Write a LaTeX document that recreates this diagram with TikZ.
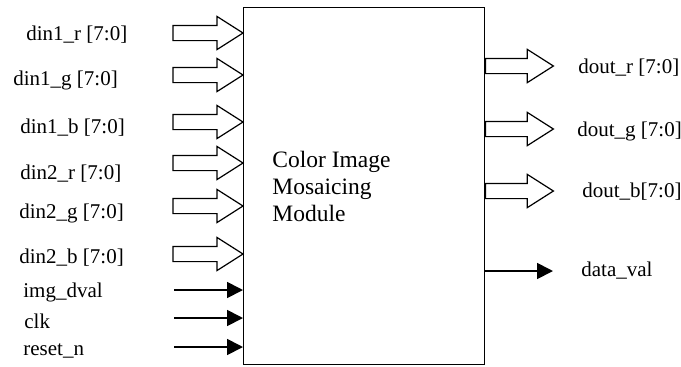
\documentclass[tikz,border=0pt]{standalone}
\usepackage{fontspec}
\setmainfont{Liberation Serif}
\usetikzlibrary{shapes.arrows,arrows.meta}

\tikzset{
  bus/.style={single arrow,draw,line width=0.6pt,inner sep=0pt,outer sep=0pt,
    text height=3.5pt,text depth=3.5pt,text width=0pt,
    minimum height=35pt,single arrow head extend=4.5pt,
    single arrow tip angle=65},
  busin/.style={bus,anchor=tip},
  busout/.style={bus,anchor=tail,minimum height=34pt},
  sig/.style={line width=0.9pt,-{Triangle[length=8pt,width=8pt]}},
  lbl/.style={anchor=west,inner sep=0pt,font=\fontsize{10.5}{12}\selectfont},
}

\begin{document}
\begin{tikzpicture}[x=0.5pt,y=-0.5pt]
        \useasboundingbox (0,0) rectangle (681,366);
        \node[draw,line width=0.7pt,inner sep=0pt,anchor=north west,
          minimum width=120.5pt,minimum height=178.5pt](cim) at (243,7){};
        \node[anchor=west,align=left,inner sep=0pt,
          font=\fontsize{11.75}{13.5}\selectfont] (cimtxt) at (272,186)
          {Color Image\\Mosaicing\\Module};
        % input buses
        \node[busin](bi1) at (cim.west |- 0,33){};
        \node[busin](bi2) at (cim.west |- 0,75){};
        \node[busin](bi3) at (cim.west |- 0,122){};
        \node[busin](bi4) at (cim.west |- 0,163){};
        \node[busin](bi5) at (cim.west |- 0,206){};
        \node[busin](bi6) at (cim.west |- 0,254){};
        \node[lbl] at (26,35){din1\_r [7:0]};
        \node[lbl] at (13,80){din1\_g [7:0]};
        \node[lbl] at (20,128){din1\_b [7:0]};
        \node[lbl] at (20,174){din2\_r [7:0]};
        \node[lbl] at (19,213){din2\_g [7:0]};
        \node[lbl] at (19,258){din2\_b [7:0]};
        % control inputs
        \coordinate(dval) at (174,290);
        \coordinate(clk) at (174,318);
        \coordinate(rst) at (174,347);
        \draw[sig](dval)--(dval -| cim.west);
        \draw[sig](clk)--(clk -| cim.west);
        \draw[sig](rst)--(rst -| cim.west);
        \node[lbl] at (23,292){img\_dval};
        \node[lbl] at (24,321){clk};
        \node[lbl] at (23,351){reset\_n};
        % outputs
        \node[busout](bo1) at (cim.east |- 0,66){};
        \node[busout](bo2) at (cim.east |- 0,129){};
        \node[busout](bo3) at (cim.east |- 0,191){};
        \coordinate(dout) at (553,271);
        \draw[sig](dout -| cim.east)--(dout);
        \node[lbl] at (578,68){dout\_r [7:0]};
        \node[lbl] at (577,131){dout\_g [7:0]};
        \node[lbl] at (582,192){dout\_b[7:0]};
        \node[lbl] at (581,271){data\_val};
    \end{tikzpicture}
\end{document}
